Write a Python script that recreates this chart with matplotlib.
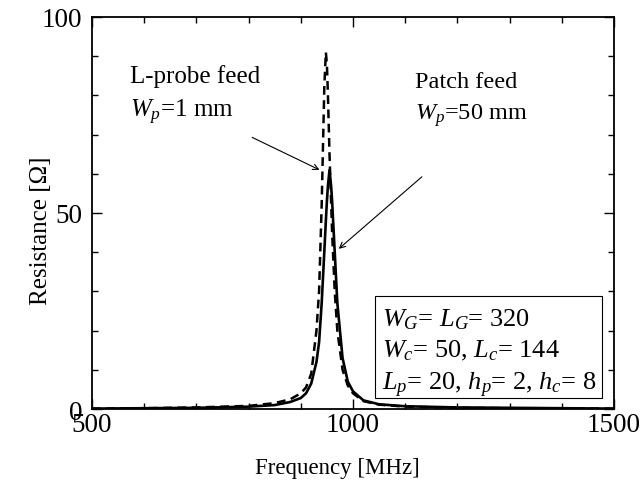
import matplotlib
matplotlib.use("Agg")
import matplotlib.pyplot as plt
from matplotlib.ticker import MultipleLocator
from matplotlib.patches import Rectangle

plt.rcParams['font.family'] = ['Liberation Serif', 'DejaVu Serif']
plt.rcParams['mathtext.fontset'] = 'custom'
plt.rcParams['mathtext.rm'] = 'Liberation Serif'
plt.rcParams['mathtext.it'] = 'Liberation Serif:italic'

# Patch feed (solid), Wp = 50 mm
freq_patch = [500, 600, 700, 800, 850, 880, 900, 910, 920, 930, 935, 940, 945, 948,
              950, 952, 955, 958, 960, 965, 970, 980, 990, 1000, 1020, 1050, 1100,
              1200, 1300, 1400, 1500]
res_patch = [0.1, 0.2, 0.3, 0.6, 1.0, 1.8, 2.8, 4.0, 6.5, 12, 17, 27, 40, 48,
             53, 57, 61, 57, 53, 40, 27, 13, 7, 4.5, 2.2, 1.2, 0.7,
             0.4, 0.3, 0.2, 0.1]

# L-probe feed (dashed), Wp = 1 mm
freq_probe = [500, 600, 700, 800, 850, 880, 900, 910, 920, 930, 935, 940, 943, 945,
              948, 950, 952, 955, 960, 965, 970, 980, 990, 1000, 1020, 1050, 1100,
              1200, 1300, 1400, 1500]
res_probe = [0.1, 0.2, 0.4, 0.8, 1.5, 2.5, 4.0, 5.5, 9, 20, 30, 52, 70, 82,
             91, 88, 80, 65, 45, 30, 20, 10, 6, 4, 2, 1.1, 0.6,
             0.3, 0.2, 0.15, 0.1]

box_lines = ['$W_G$= $L_G$= 320',
             '$W_c$= 50, $L_c$= 144',
             '$L_p$= 20, $h_p$= 2, $h_c$= 8']

fig = plt.figure(figsize=(6.43, 4.81), dpi=100)
ax = fig.add_axes([92/643, 1-410/481, (614-92)/643, (410-18)/481])

ax.plot(freq_probe, res_probe, color='black', lw=1.8, ls=(0, (3.5, 2.2)))
ax.plot(freq_patch, res_patch, color='black', lw=1.9)

ax.set_xlim(500, 1500)
ax.set_ylim(0, 100)
ax.xaxis.set_major_locator(MultipleLocator(500))
ax.xaxis.set_minor_locator(MultipleLocator(100))
ax.yaxis.set_major_locator(MultipleLocator(50))
ax.yaxis.set_minor_locator(MultipleLocator(10))
ax.tick_params(which='both', direction='in', top=True, right=True, labelsize=19.5, width=1.0)
ax.tick_params(which='major', length=7)
ax.tick_params(which='minor', length=4)
ax.tick_params(axis='x', which='major', pad=2)
ax.tick_params(axis='y', which='major', pad=7)
for s in ax.spines.values():
    s.set_linewidth(1.3)

ax.set_xlabel('Frequency [MHz]', fontsize=16.5)
ax.xaxis.set_label_coords(0.471, -0.122)
ax.set_ylabel('Resistance [Ω]', fontsize=18)
ax.yaxis.set_label_coords(-0.077, 0.457)

ax.text(573, 83.4, 'L-probe feed', fontsize=18, va='baseline', ha='left')
ax.text(573, 74.7, '$W_p$=1 mm', fontsize=18, va='baseline', ha='left')
ax.text(1119, 82.1, 'Patch feed', fontsize=17.5, va='baseline', ha='left')
ax.text(1119, 74.0, '$W_p$=50 mm', fontsize=17.5, va='baseline', ha='left')

ax.annotate('', xy=(940.6, 60.7), xytext=(802, 69.6),
            arrowprops=dict(arrowstyle='->', color='black', lw=0.8))
ax.annotate('', xy=(968.7, 40.4), xytext=(1136, 59.7),
            arrowprops=dict(arrowstyle='->', color='black', lw=0.8))

ax.add_patch(Rectangle((1042, 2.8), 1477 - 1042, 28.9 - 2.8, fc='white', ec='black', lw=0.8, zorder=3))
for t, yb in zip(box_lines, [21.4, 13.3, 5.1]):
    ax.text(1055, yb, t, fontsize=19, va='baseline', ha='left', zorder=4)

fig.savefig('out.png', dpi=100)
